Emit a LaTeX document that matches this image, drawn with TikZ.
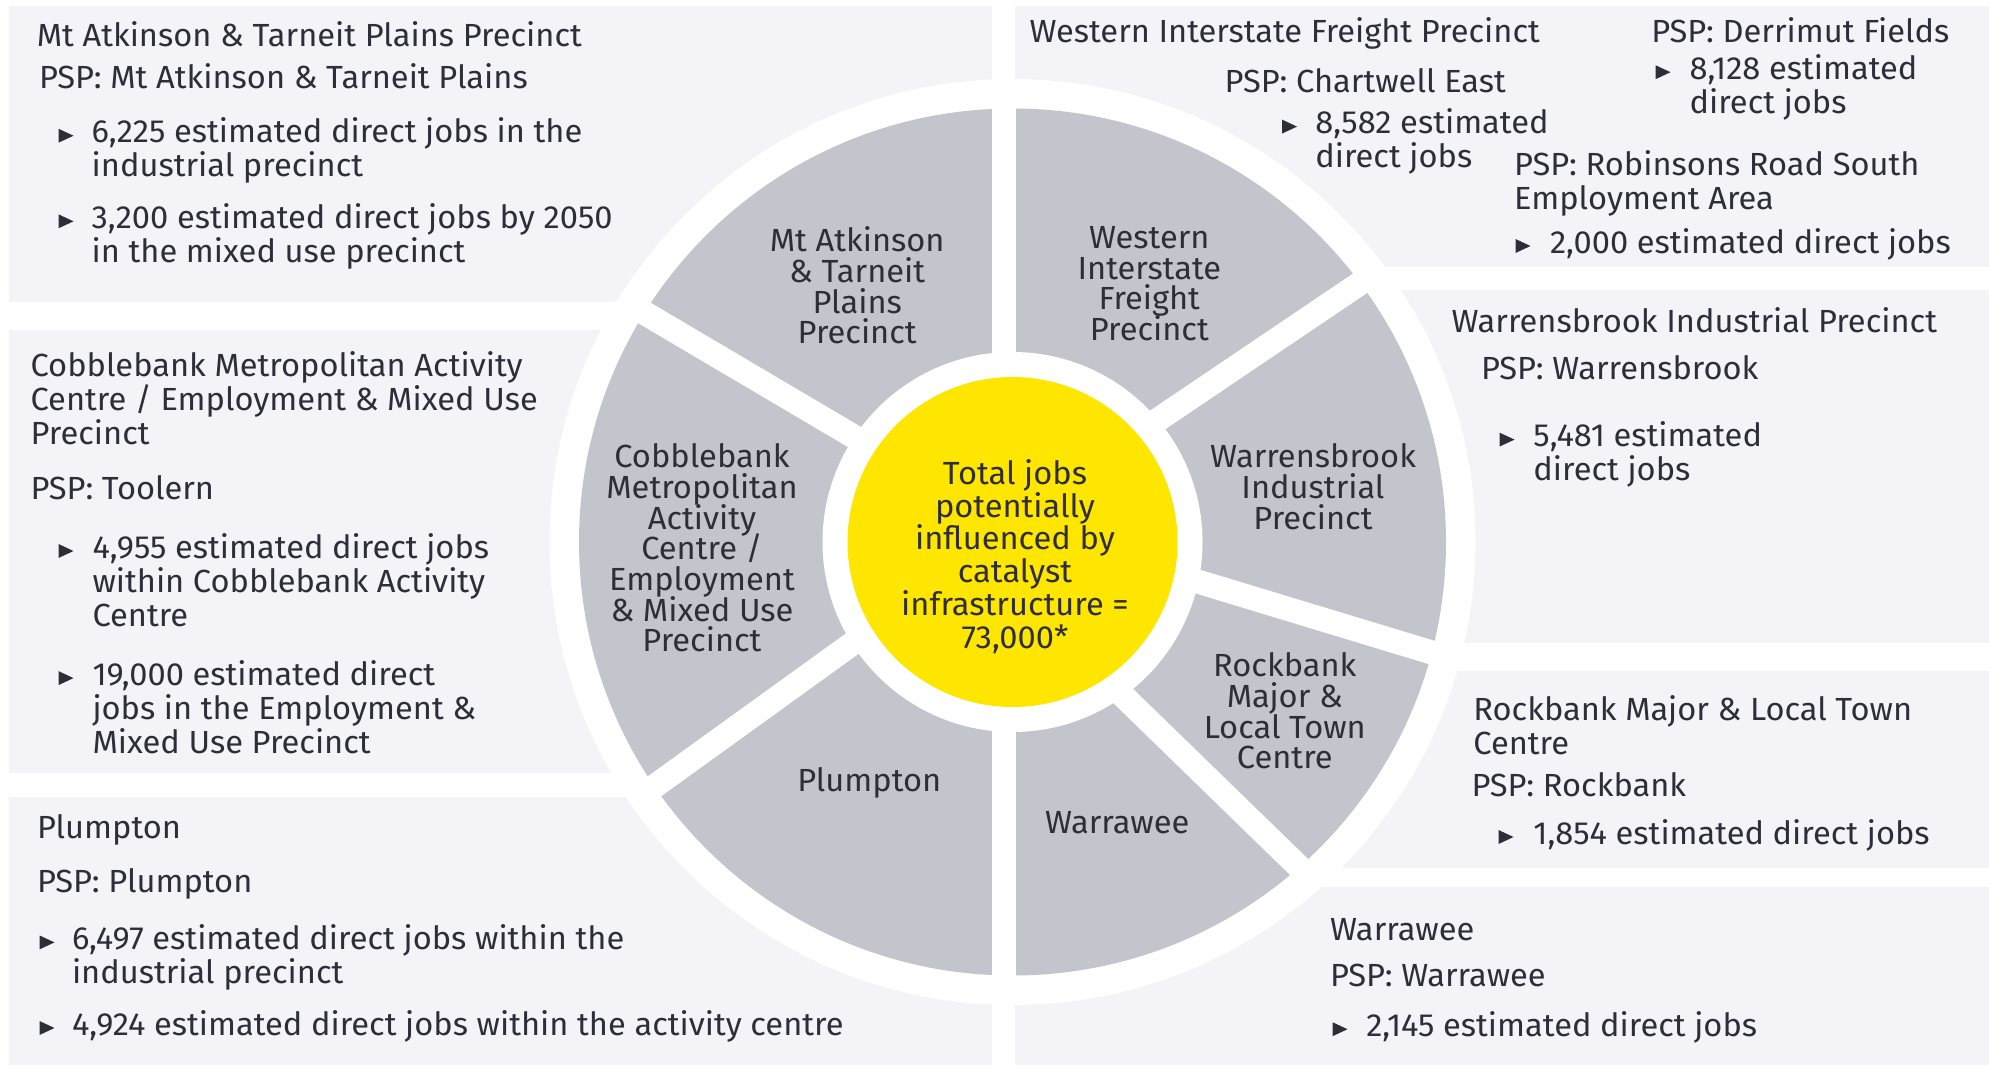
\documentclass[tikz,border=0pt]{standalone}
\usepackage{fontspec}
\setmainfont{Fira Sans}[FakeStretch=1.02]
\usetikzlibrary{calc}
\definecolor{panelbg}{RGB}{244,244,248}
\definecolor{wedge}{RGB}{196,196,205}
\definecolor{hub}{RGB}{255,230,0}
\definecolor{ink}{RGB}{46,46,56}
\begin{document}
\lineskiplimit=-50pt\relax
% text nodes are placed by the baseline of their last line
\begin{tikzpicture}[x=1pt,y=-1pt,
  panel/.style={fill=panelbg, draw=none},
  body/.style={inner sep=0pt, outer sep=0pt, text=ink,
    font=\fontsize{32}{34}\selectfont, align=left, anchor=base west},
  seg/.style={inner sep=0pt, outer sep=0pt, text=ink,
    font=\fontsize{32}{30.7}\selectfont, align=center, anchor=base},
  hubtext/.style={inner sep=0pt, outer sep=0pt, text=ink,
    font=\fontsize{32}{32.8}\selectfont, align=center, anchor=base},
  gap/.style={draw=white, line width=24pt},
  bullet/.pic={\fill[ink] (-7.5,-7) -- (7.5,0) -- (-7.5,7) -- cycle;}
]
\useasboundingbox (0,0) rectangle (1989,1068);
\fill[white] (0,0) rectangle (1989,1068);

% ---- background panels ----
\fill[panel] (9,6) rectangle (992,302);
\fill[panel] (9,330) rectangle (992,773);
\fill[panel] (9,797) rectangle (992,1065);
\fill[panel] (1015,6) rectangle (1989,267);
\fill[panel] (1015,290) rectangle (1989,643);
\fill[panel] (1015,671) rectangle (1989,868);
\fill[panel] (1015,887) rectangle (1989,1065);

% ---- wheel ----
\coordinate (C) at (1012.5,542);
\fill[white] (C) circle (463);
\fill[wedge] (C) circle (433.5);

\begin{scope}
  \clip (C) circle (463);
  \draw[gap] (1003.5,0) -- (1003.5,1068);
  \draw[gap] (1124.8,442.1) -- (1484.4,199.3);
  \draw[gap] (1158.7,569.7) -- (1575.2,696);
  \draw[gap] (1094.3,667.9) -- (1406.4,971.3);
  \draw[gap] (885.1,619.9) -- (532.9,874);
  \draw[gap] (888.9,457.3) -- (515.9,237.1);
\end{scope}

\fill[white] (C) circle (190);
\fill[hub] (C) circle (165);

% ---- wheel labels ----
\node[hubtext] (hub) at (1015,648.3) {Total jobs\\potentially\\influenced by\\catalyst\\infrastructure =\\73,000*};
\node[seg] (sMA) at (857.2,343.8) {Mt Atkinson\\\& Tarneit\\Plains\\Precinct};
\node[seg] (sWI) at (1149.3,340.4) {Western\\Interstate\\Freight\\Precinct};
\node[seg] (sWB) at (1313,529.1) {Warrensbrook\\Industrial\\Precinct};
\node[seg] (sCB) at (702,651.9) {Cobblebank\\Metropolitan\\Activity\\Centre /\\Employment\\\& Mixed Use\\Precinct};
\node[seg] (sPL) at (869.3,791.7) {Plumpton};
\node[seg] (sRB) at (1284.8,768.8) {Rockbank\\Major \&\\Local Town\\Centre};
\node[seg] (sWW) at (1117.2,833.3) {Warrawee};

% ---- Mt Atkinson & Tarneit Plains ----
\node[body] (tlHead) at (36.8,46.7) {Mt Atkinson \& Tarneit Plains Precinct};
\node[body] (tlPsp) at (39,88.3) {PSP: Mt Atkinson \& Tarneit Plains};
\pic at (66,135.7) {bullet};
\node[body] (tlB1) at (91.7,176.7) {6,225 estimated direct jobs in the\\industrial precinct};
\pic at (66,221.3) {bullet};
\node[body] (tlB2) at (91.7,262.3) {3,200 estimated direct jobs by 2050\\in the mixed use precinct};

% ---- Cobblebank ----
\node[body] (cbHead) at (30.6,444) {Cobblebank Metropolitan Activity\\Centre / Employment \& Mixed Use\\Precinct};
\node[body] (cbPsp) at (30.6,499.3) {PSP: Toolern};
\pic at (66,551) {bullet};
\node[body] (cbB1) at (92.5,626.5) {4,955 estimated direct jobs\\within Cobblebank Activity\\Centre};
\pic at (66,678.1) {bullet};
\node[body] (cbB2) at (92.5,753.1) {19,000 estimated direct\\jobs in the Employment \&\\Mixed Use Precinct};

% ---- Plumpton ----
\node[body] (plHead) at (37,838.9) {Plumpton};
\node[body] (plPsp) at (37,892) {PSP: Plumpton};
\pic at (47,942.4) {bullet};
\node[body] (plB1) at (72,983.4) {6,497 estimated direct jobs within the\\industrial precinct};
\pic at (47,1028) {bullet};
\node[body] (plB2) at (72,1035) {4,924 estimated direct jobs within the activity centre};

% ---- Western Interstate Freight ----
\node[body] (wiHead) at (1029.5,42) {Western Interstate Freight Precinct};
\node[body] (wiPsp1) at (1224.7,92.3) {PSP: Chartwell East};
\pic at (1289.5,126.6) {bullet};
\node[body] (wiB1) at (1315.3,167.6) {8,582 estimated\\direct jobs};
\node[body] (wiPsp2) at (1651.3,42) {PSP: Derrimut Fields};
\pic at (1663,72.2) {bullet};
\node[body] (wiB2) at (1689.6,113.2) {8,128 estimated\\direct jobs};
\node[body] (wiPsp3) at (1514.2,209.6) {PSP: Robinsons Road South\\Employment Area};
\pic at (1523,246) {bullet};
\node[body] (wiB3) at (1550,253) {2,000 estimated direct jobs};

% ---- Warrensbrook ----
\node[body] (wbHead) at (1451.7,332.3) {Warrensbrook Industrial Precinct};
\node[body] (wbPsp) at (1481,379.8) {PSP: Warrensbrook};
\pic at (1507,439.6) {bullet};
\node[body] (wbB1) at (1533.4,480.6) {5,481 estimated\\direct jobs};

% ---- Rockbank ----
\node[body] (rbHead) at (1473.4,754.5) {Rockbank Major \& Local Town\\Centre};
\node[body] (rbPsp) at (1471.5,796) {PSP: Rockbank};
\pic at (1506,837) {bullet};
\node[body] (rbB1) at (1533.4,844) {1,854 estimated direct jobs};

% ---- Warrawee ----
\node[body] (wwHead) at (1330,940.8) {Warrawee};
\node[body] (wwPsp) at (1330,986.4) {PSP: Warrawee};
\pic at (1340,1029.2) {bullet};
\node[body] (wwB1) at (1366.3,1036.2) {2,145 estimated direct jobs};
\end{tikzpicture}
\end{document}
